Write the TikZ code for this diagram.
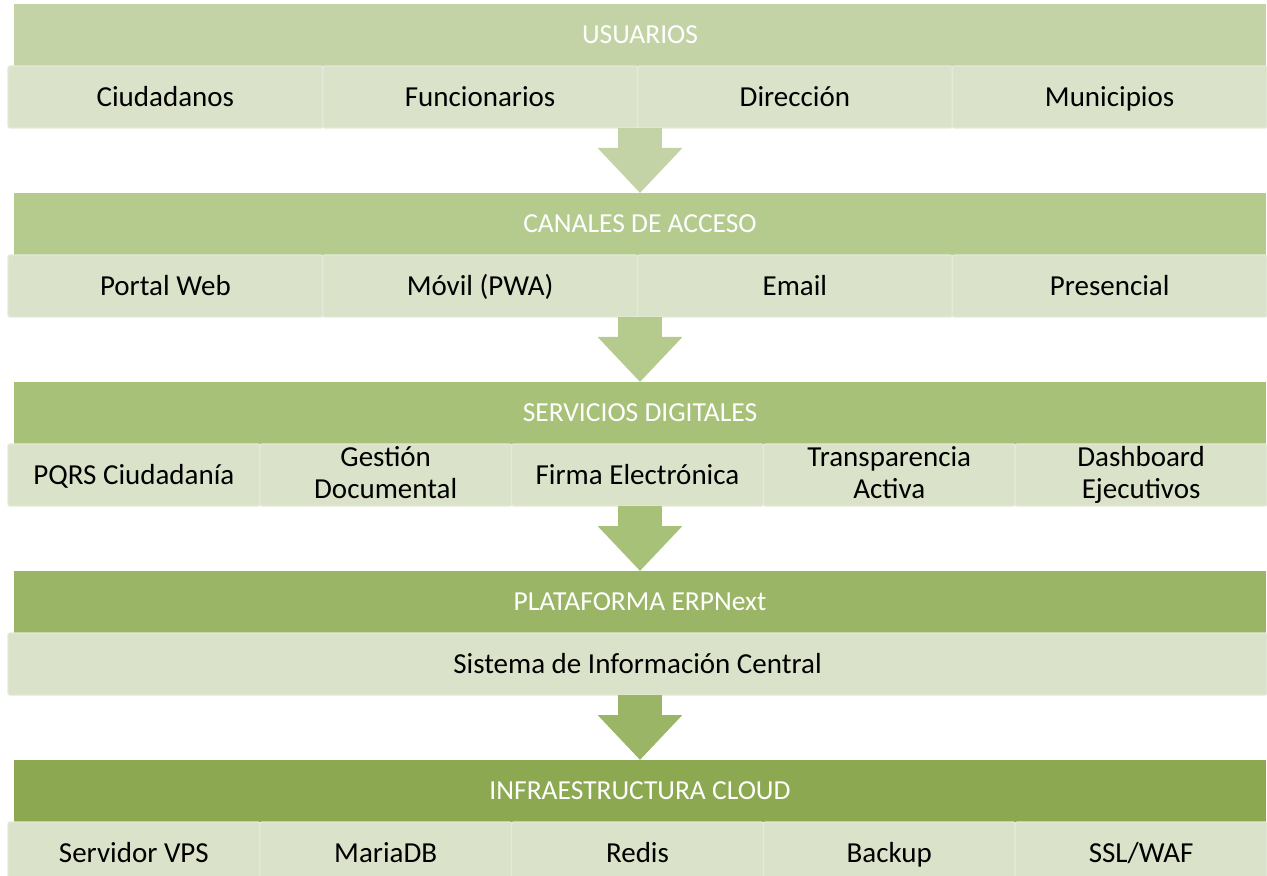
\documentclass[tikz,border=0pt]{standalone}
\usepackage{fontspec}
\setmainfont{Carlito}
\usetikzlibrary{positioning,arrows.meta}
\definecolor{hdrA}{HTML}{C3D3A5}
\definecolor{hdrB}{HTML}{B5CB8D}
\definecolor{hdrC}{HTML}{A7C179}
\definecolor{hdrD}{HTML}{9BB566}
\definecolor{hdrE}{HTML}{8CA851}
\definecolor{cellfill}{HTML}{DAE3C9}
\definecolor{cellline}{HTML}{E3EAD9}
\newcommand{\cellstrut}{\rule[-2.4pt]{0pt}{14pt}}

\begin{document}
\begin{tikzpicture}[
  hbar/.style={fill=#1, text=white, minimum width=626pt, minimum height=31pt,
               inner sep=0pt, outer sep=0pt, font=\fontsize{13.75}{15}\selectfont},
  cell/.style={draw=cellline, line width=0.6pt, fill=cellfill, rounded corners=1pt,
               minimum width=#1, minimum height=31pt, inner sep=0pt, outer sep=0pt,
               align=center, font=\fontsize{14.5}{16}\selectfont,
               execute at begin node=\cellstrut, execute at end node=\cellstrut},
  flow/.style={draw=#1, line width=22pt, -{Triangle[length=22.5pt,width=41pt]}}
]
\useasboundingbox (0,0) rectangle (633.5pt,-438pt);
% usuarios
\node[hbar=hdrA] (usr) at (320pt,-17.5pt) {USUARIOS};
\node[cell=157.375pt, anchor=north west] (usr1) at ([xshift=-3pt]usr.south west) {Ciudadanos};
\node[cell=157.375pt, right=0pt of usr1] (usr2) {Funcionarios};
\node[cell=157.375pt, right=0pt of usr2] (usr3) {Dirección};
\node[cell=157.375pt, right=0pt of usr3] (usr4) {Municipios};
% canales
\node[hbar=hdrB, below=63.5pt of usr] (can) {CANALES DE ACCESO};
\node[cell=157.375pt, anchor=north west] (can1) at ([xshift=-3pt]can.south west) {Portal Web};
\node[cell=157.375pt, right=0pt of can1] (can2) {Móvil (PWA)};
\node[cell=157.375pt, right=0pt of can2] (can3) {Email};
\node[cell=157.375pt, right=0pt of can3] (can4) {Presencial};
% servicios
\node[hbar=hdrC, below=63.5pt of can] (srv) {SERVICIOS DIGITALES};
\node[cell=125.9pt, anchor=north west] (srv1) at ([xshift=-3pt]srv.south west) {PQRS Ciudadanía};
\node[cell=125.9pt, right=0pt of srv1] (srv2) {Gestión\\Documental};
\node[cell=125.9pt, right=0pt of srv2] (srv3) {Firma Electrónica};
\node[cell=125.9pt, right=0pt of srv3] (srv4) {Transparencia\\Activa};
\node[cell=125.9pt, right=0pt of srv4] (srv5) {Dashboard\\Ejecutivos};
% plataforma
\node[hbar=hdrD, below=63.5pt of srv] (erp) {PLATAFORMA ERPNext};
\node[cell=629.5pt, anchor=north west] (erp1) at ([xshift=-3pt]erp.south west) {Sistema de Información Central};
% infraestructura
\node[hbar=hdrE, below=63.5pt of erp] (inf) {INFRAESTRUCTURA CLOUD};
\node[cell=125.9pt, anchor=north west] (inf1) at ([xshift=-3pt]inf.south west) {Servidor VPS};
\node[cell=125.9pt, right=0pt of inf1] (inf2) {MariaDB};
\node[cell=125.9pt, right=0pt of inf2] (inf3) {Redis};
\node[cell=125.9pt, right=0pt of inf3] (inf4) {Backup};
\node[cell=125.9pt, right=0pt of inf4] (inf5) {SSL/WAF};
% flechas
\draw[flow=hdrA] (usr.south |- usr1.south) -- (can.north);
\draw[flow=hdrB] (can.south |- can1.south) -- (srv.north);
\draw[flow=hdrC] (srv.south |- srv1.south) -- (erp.north);
\draw[flow=hdrD] (erp.south |- erp1.south) -- (inf.north);
\end{tikzpicture}
\end{document}
